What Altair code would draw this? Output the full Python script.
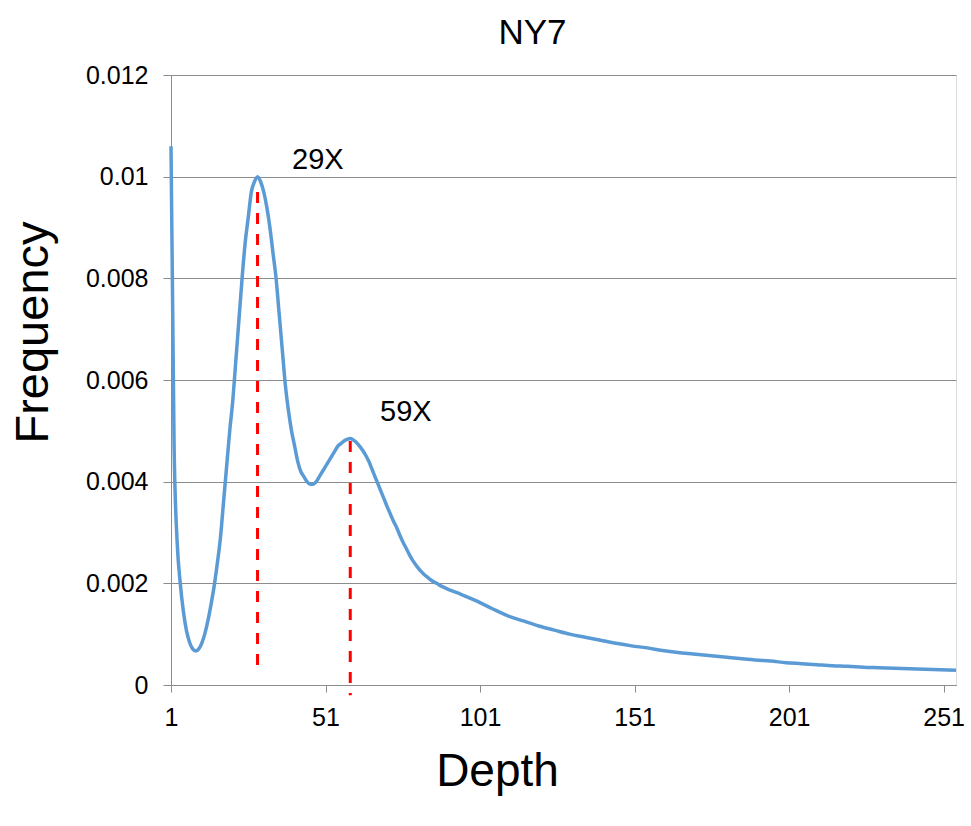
import altair as alt
import pandas as pd

# ---- data ----
depth = list(range(1, 90)) + list(range(90, 256, 5))
frequency = [
    0.0106, 0.0047, 0.0028, 0.0020, 0.00145, 0.00107, 0.00084, 0.00071, 0.00067, 0.00071,
    0.00083, 0.00102, 0.00128, 0.0016, 0.00196, 0.0024, 0.0029, 0.0036, 0.0043, 0.0050,
    0.0056, 0.0064, 0.0072, 0.0080, 0.0087, 0.0092, 0.0097, 0.0099, 0.0100, 0.0099,
    0.0097, 0.0094, 0.0090, 0.0085, 0.0080, 0.0073, 0.0066, 0.0059, 0.0054, 0.0050,
    0.0047, 0.0044, 0.0042, 0.0041, 0.0040, 0.00395, 0.00395, 0.0040, 0.0041, 0.0042,
    0.0043, 0.0044, 0.0045, 0.0046, 0.0047, 0.00475, 0.0048, 0.00483, 0.00485, 0.00482,
    0.00477, 0.0047, 0.00462, 0.00452, 0.0044, 0.00425, 0.0041, 0.00395, 0.0038, 0.00365,
    0.0035, 0.00336, 0.00322, 0.0031, 0.00295, 0.00282, 0.0027, 0.00258, 0.00247, 0.00238,
    0.0023, 0.00223, 0.00217, 0.00212, 0.00207, 0.00203, 0.0020, 0.00196, 0.00193,
    # 90 .. 255 step 5
    0.0019, 0.00178, 0.00165, 0.0015, 0.00136, 0.00126, 0.00116, 0.00108, 0.0010, 0.00094,
    0.00088, 0.00082, 0.00077, 0.00073, 0.00068, 0.00064, 0.00061, 0.00058, 0.00055, 0.00052,
    0.00049, 0.00047, 0.00044, 0.00042, 0.0004, 0.00038, 0.00037, 0.00035, 0.00034, 0.00033,
    0.00032, 0.00031, 0.0003, 0.00029,
]

x_ticks = [1, 51, 101, 151, 201, 251]
y_ticks = [0, 0.002, 0.004, 0.006, 0.008, 0.010, 0.012]

peak_depth = [29, 59]
peak_top = [0.0097, 0.0048]
peak_bottom = [0.00023, -0.0002]
peak_label = ["29X", "59X"]
label_depth = [48.5, 77]
label_freq = [0.01033, 0.00537]

FONT = "Liberation Sans"
GRID = "#8c8c8c"

df = pd.DataFrame({"Depth": depth, "Frequency": frequency})
peaks = pd.DataFrame({"d": peak_depth, "top": peak_top, "bottom": peak_bottom})
labels = pd.DataFrame({"d": label_depth, "f": label_freq, "t": peak_label})

x_scale = alt.Scale(domain=[1, 255], nice=False, zero=False)
y_scale = alt.Scale(domain=[0, 0.012], nice=False)

line = alt.Chart(df).mark_line(color="#5B9BD5", strokeWidth=3.5, interpolate="monotone").encode(
    x=alt.X("Depth:Q", scale=x_scale,
            axis=alt.Axis(values=x_ticks, grid=False, title="Depth",
                          domainColor=GRID, tickColor=GRID, tickSize=7,
                          labelFont=FONT, labelFontSize=25, labelColor="black",
                          labelPadding=13, labelFlush=False,
                          titleFont=FONT, titleFontSize=46, titleFontWeight="normal",
                          titleColor="black", titleX=326, titleY=100,
                          titleBaseline="alphabetic", titleAlign="center")),
    y=alt.Y("Frequency:Q", scale=y_scale,
            axis=alt.Axis(values=y_ticks, format="~g", grid=True, gridColor=GRID,
                          gridWidth=1, domainColor=GRID, tickColor=GRID, tickSize=8,
                          labelFont=FONT, labelFontSize=25, labelColor="black",
                          labelPadding=15, title="Frequency",
                          titleFont=FONT, titleFontSize=47, titleFontWeight="normal",
                          titleColor="black", titleAngle=270, titleX=-124, titleY=257,
                          titleBaseline="alphabetic", titleAlign="center")),
)

rules = alt.Chart(peaks).mark_rule(color="#FF0000", strokeWidth=3, strokeDash=[11, 10]).encode(
    x=alt.X("d:Q", scale=x_scale),
    y=alt.Y("top:Q", scale=y_scale),
    y2="bottom:Q",
)

texts = alt.Chart(labels).mark_text(font=FONT, fontSize=29, color="black",
                                    align="center", baseline="middle").encode(
    x=alt.X("d:Q", scale=x_scale),
    y=alt.Y("f:Q", scale=y_scale),
    text="t:N",
)

chart = alt.layer(rules, line, texts).properties(
    width=785,
    height=610,
    autosize="none",
    padding={"left": 171, "top": 75, "right": 15, "bottom": 141},
    title=alt.TitleParams("NY7", font=FONT, fontSize=35, fontWeight="normal",
                          color="black", anchor="middle", dx=-31, offset=12),
).configure_view(stroke=None).configure(background="white")

chart.save("out.html", embed_options={"renderer": "svg", "actions": False})
